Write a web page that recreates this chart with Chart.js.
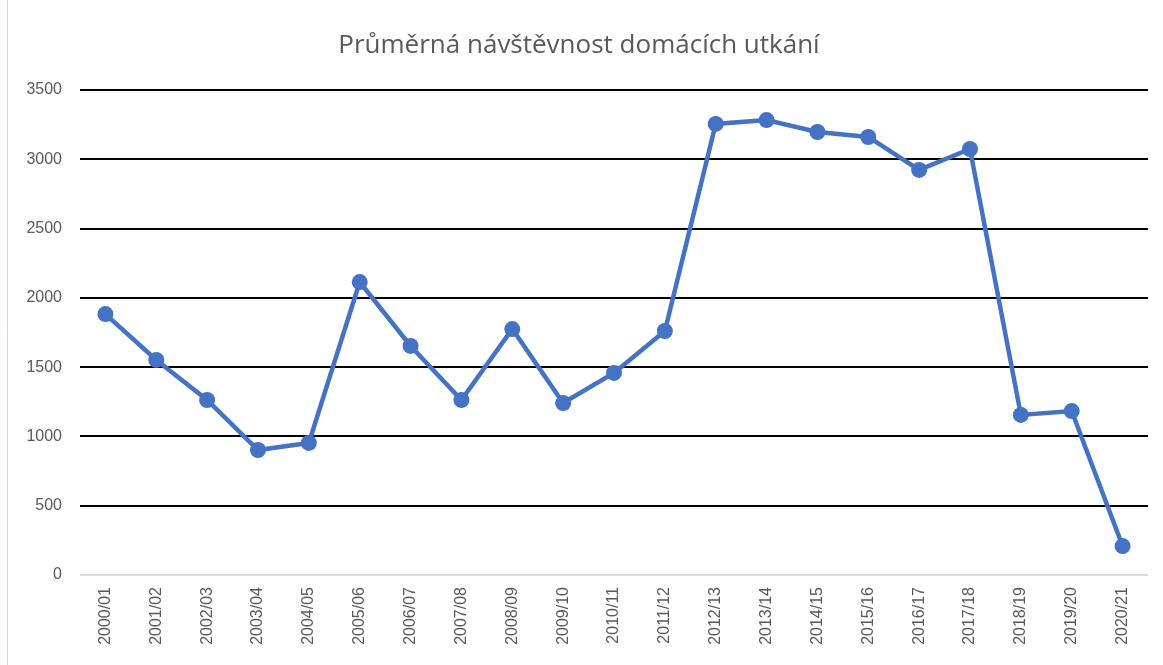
<!DOCTYPE html>
<html>
<head>
<meta charset="utf-8">
<script src="https://cdn.jsdelivr.net/npm/chart.js@4"></script>
<style>
  html, body { margin: 0; padding: 0; background: #fff; }
  #wrap { width: 1163px; height: 665px; }
</style>
</head>
<body>
<div id="wrap"><canvas id="attendanceChart"></canvas></div>
<script>
const seasons = ["2000/01", "2001/02", "2002/03", "2003/04", "2004/05", "2005/06", "2006/07",
  "2007/08", "2008/09", "2009/10", "2010/11", "2011/12", "2012/13", "2013/14", "2014/15",
  "2015/16", "2016/17", "2017/18", "2018/19", "2019/20", "2020/21"];
const attendance = [1883, 1552, 1263, 902, 953, 2114, 1653, 1263, 1775, 1241, 1458, 1761,
  3255, 3283, 3197, 3161, 2923, 3074, 1155, 1183, 209];
const titleText = "Průměrná návštěvnost domácích utkání";

const edgeLine = {
  id: "edgeLine",
  beforeDraw(chart) {
    const c = chart.ctx;
    c.save();
    c.strokeStyle = "#d9d9d9";
    c.lineWidth = 1;
    c.beginPath();
    c.moveTo(7.5, 0);
    c.lineTo(7.5, 665);
    c.stroke();
    c.restore();
  }
};

const ctx = document.getElementById("attendanceChart").getContext("2d");
new Chart(ctx, {
  type: "line",
  data: {
    labels: seasons,
    datasets: [{
      label: "Návštěvnost",
      data: attendance,
      borderColor: "#4472C4",
      backgroundColor: "#4472C4",
      borderWidth: 4.5,
      pointRadius: 8,
      pointHoverRadius: 8,
      pointBorderWidth: 0,
      tension: 0
    }]
  },
  options: {
    responsive: true,
    maintainAspectRatio: false,
    animation: false,
    layout: { padding: { left: 10, right: 15, top: 0, bottom: 0 } },
    plugins: {
      legend: { display: false },
      tooltip: { enabled: false },
      title: {
        display: true,
        text: titleText,
        color: "#595959",
        font: { family: "'Open Sans', 'Noto Sans', sans-serif", size: 26, weight: "normal", lineHeight: 1.2 },
        padding: { top: 30, bottom: 28.8 }
      }
    },
    scales: {
      x: {
        offset: true,
        grid: { display: false, drawTicks: false },
        border: { display: false },
        ticks: {
          color: "#595959",
          font: { family: "'Liberation Sans', Arial, sans-serif", size: 16 },
          minRotation: 90,
          maxRotation: 90,
          padding: 12,
          autoSkip: false
        },
        afterFit(scale) { scale.height = 90; }
      },
      y: {
        min: 0,
        max: 3500,
        grid: {
          drawTicks: false,
          lineWidth: 2,
          color: c => c.tick && c.tick.value === 0 ? "#d9d9d9" : "#000000"
        },
        border: { display: false },
        ticks: {
          stepSize: 500,
          color: "#595959",
          font: { family: "'Liberation Sans', Arial, sans-serif", size: 16 },
          padding: 18,
          callback: v => String(v)
        },
        afterFit(scale) { scale.width = 70; }
      }
    }
  },
  plugins: [edgeLine]
});
</script>
</body>
</html>
